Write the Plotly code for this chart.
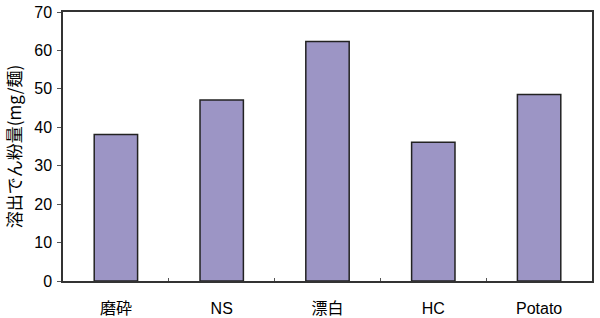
import plotly.graph_objects as go

categories = ["磨砕", "NS", "漂白", "HC", "Potato"]
values = [38.1, 47.1, 62.3, 36.1, 48.5]
y_ticks = [0, 10, 20, 30, 40, 50, 60, 70]
y_title = "溶出でん粉量(mg/麺)"

fig = go.Figure(
    go.Bar(
        x=categories,
        y=values,
        marker=dict(color="#9c95c5", line=dict(color="#222222", width=1.5)),
    )
)

font_family = "Liberation Sans, Arial, Noto Sans CJK JP, sans-serif"

fig.update_layout(
    width=600,
    height=318,
    margin=dict(l=63, r=8, t=12, b=37),
    paper_bgcolor="white",
    plot_bgcolor="white",
    bargap=0.59,
    showlegend=False,
    font=dict(family=font_family, size=16, color="#000000"),
)

fig.update_xaxes(
    type="category",
    automargin=False,
    showline=True,
    linecolor="#333333",
    linewidth=1.5,
    mirror=True,
    ticks="inside",
    tickson="boundaries",
    ticklen=3,
    tickcolor="#555555",
    showgrid=False,
    tickfont=dict(size=16, family=font_family),
    ticklabelstandoff=12,
)

fig.update_yaxes(
    range=[0, 70],
    automargin=False,
    tickvals=y_ticks,
    showline=True,
    linecolor="#333333",
    linewidth=1.5,
    mirror=True,
    ticks="outside",
    ticklen=4,
    tickcolor="#555555",
    showgrid=False,
    zeroline=False,
    tickfont=dict(size=16, family=font_family),
    ticklabelstandoff=2,
    title=dict(text=y_title, font=dict(size=17, family="Noto Sans CJK JP, sans-serif"), standoff=8),
)

fig.write_html("out.html")
